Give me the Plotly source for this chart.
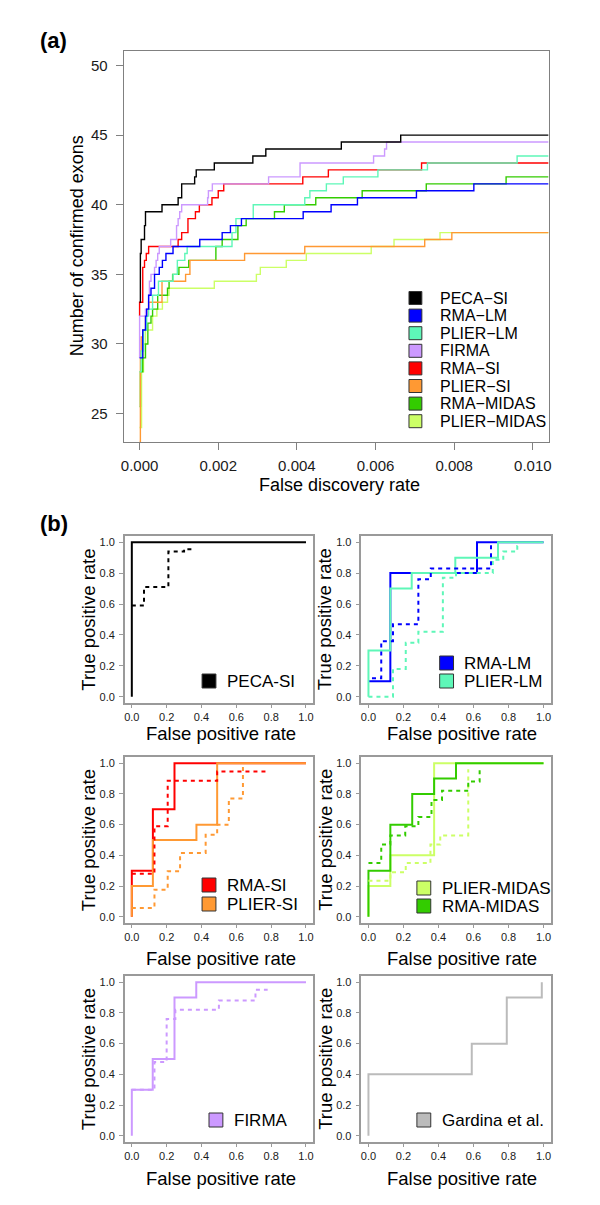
import plotly.graph_objects as go

# ---------------- Panel (a) data: step curves (FDR, confirmed exons) ----------------
FDR_END = 0.0104
names_a = ["PECA-SI", "RMA-LM", "PLIER-LM", "FIRMA", "RMA-SI", "PLIER-SI", "RMA-MIDAS", "PLIER-MIDAS"]
colors_a = ["#000000", "#0000FF", "#5EF7B8", "#CC99FF", "#FF0000", "#FF9933", "#33CC00", "#CCFF66"]

peca_si_fdr = [0, 0.00002, 0.00004, 0.000125, 0.00015, 0.00057, 0.00098, 0.00107, 0.0014, 0.00144,
               0.0019, 0.00288, 0.00321, 0.00513, 0.00664]
peca_si_n = [33, 36.5, 37.5, 38.5, 39.5, 40, 40.5, 41.5, 42, 42.5, 43, 43.5, 44, 44.5, 45]

rma_lm_fdr = [0, 0.00008, 0.00015, 0.00018, 0.00023, 0.00029, 0.00038, 0.0005, 0.00058, 0.00067,
              0.00085, 0.00153, 0.0021, 0.00231, 0.00259, 0.00416, 0.00487, 0.00554, 0.00704, 0.0085]
rma_lm_n = [29, 31, 32, 32.5, 33.5, 34, 35, 35.5, 36, 36.5, 37, 37.5, 38, 38.5, 39, 39.5, 40, 40.5, 41, 41.5]

plier_lm_fdr = [0, 0.00004, 0.0001, 0.00018, 0.00023, 0.00033, 0.00048, 0.00085, 0.00096, 0.00115,
                0.00121, 0.00235, 0.00245, 0.00289, 0.0042, 0.00433, 0.00475, 0.00518, 0.00606, 0.00732, 0.0096]
plier_lm_n = [28, 29.5, 31, 32, 32.5, 33.5, 34.5, 35, 36, 36.5, 37, 38, 39, 40, 40.5, 41, 41.5, 42, 42.5, 43, 43.5]

firma_fdr = [0, 0, 0.00015, 0.00023, 0.00025, 0.00029, 0.00038, 0.00042, 0.00046, 0.0005, 0.00079,
             0.00094, 0.00098, 0.00102, 0.00107, 0.00173, 0.00175, 0.00185, 0.00328, 0.00408, 0.00595,
             0.00623, 0.00628]
firma_n = [29, 32, 32.5, 33.5, 34.5, 35, 35.5, 36, 36.5, 37, 37.5, 38.5, 39, 39.5, 40, 40.5, 41, 41.5,
           42, 43, 43.5, 44, 44.5]

rma_si_fdr = [0, 0, 0.00008, 0.000125, 0.00017, 0.00023, 0.00098, 0.00107, 0.00123, 0.00142, 0.00152,
              0.00184, 0.002, 0.00214, 0.00415, 0.0048, 0.00717]
rma_si_n = [32, 33, 35.5, 36, 36.5, 37, 37.5, 38, 39, 39.5, 40, 40.5, 41, 41.5, 42, 42.5, 43]

plier_si_fdr = [0, 0.00002, 0.00004, 0.00008, 0.00015, 0.00018, 0.00023, 0.00057, 0.00117, 0.00128,
                0.00267, 0.0042, 0.00725, 0.00794]
plier_si_n = [23, 29.5, 30.5, 31, 32, 32.5, 33, 34.5, 35, 36, 36.5, 37, 37.5, 38]

rma_midas_fdr = [0, 0.00002, 0.00008, 0.00015, 0.00021, 0.00029, 0.00033, 0.00046, 0.00071, 0.00075,
                 0.00084, 0.001, 0.00125, 0.00194, 0.0021, 0.0025, 0.00271, 0.00343, 0.00368, 0.00448,
                 0.00566, 0.00729, 0.00932]
rma_midas_n = [25.5, 28, 29, 30, 31.5, 32, 32.5, 33.5, 34, 34.5, 35, 35.5, 36, 37, 37.5, 38.5, 39, 39.5,
               40, 40.5, 41, 41.5, 42]

plier_midas_fdr = [0, 0.00005, 0.0001, 0.00015, 0.00033, 0.00044, 0.00058, 0.00071, 0.00075, 0.0019,
                   0.00297, 0.00307, 0.00373, 0.00424, 0.00589, 0.00647, 0.00764]
plier_midas_n = [24, 28, 30, 31, 32, 32.5, 33, 33.5, 34, 34.5, 35, 35.5, 36, 36.5, 37, 37.5, 38]

series_a = {
    "PECA-SI": (peca_si_fdr, peca_si_n),
    "RMA-LM": (rma_lm_fdr, rma_lm_n),
    "PLIER-LM": (plier_lm_fdr, plier_lm_n),
    "FIRMA": (firma_fdr, firma_n),
    "RMA-SI": (rma_si_fdr, rma_si_n),
    "PLIER-SI": (plier_si_fdr, plier_si_n),
    "RMA-MIDAS": (rma_midas_fdr, rma_midas_n),
    "PLIER-MIDAS": (plier_midas_fdr, plier_midas_n),
}
draw_order_a = ["PLIER-MIDAS", "RMA-MIDAS", "PLIER-SI", "RMA-SI", "FIRMA", "PLIER-LM", "RMA-LM", "PECA-SI"]

x_ticks_a = [0.000, 0.002, 0.004, 0.006, 0.008, 0.010]
y_ticks_a = [25, 30, 35, 40, 45, 50]

# ---------------- Panel (b) data: ROC step curves (FPR, TPR knots) ----------------
roc_ticks = [0.0, 0.2, 0.4, 0.6, 0.8, 1.0]

peca_solid_fpr = [0, 0, 1.0];            peca_solid_tpr = [0, 1.0, 1.0]
peca_dot_fpr = [0, 0.07, 0.21, 0.30, 0.36]; peca_dot_tpr = [0.59, 0.71, 0.94, 0.955, 0.955]

rmalm_solid_fpr = [0, 0.125, 0.62, 1.0];  rmalm_solid_tpr = [0.1, 0.8, 1.0, 1.0]
plierlm_solid_fpr = [0, 0, 0.125, 0.247, 0.496, 0.74, 1.0]
plierlm_solid_tpr = [0, 0.3, 0.7, 0.8, 0.9, 1.0, 1.0]
rmalm_dot_fpr = [0.02, 0.073, 0.14, 0.285, 0.356, 0.70]
rmalm_dot_tpr = [0.12, 0.36, 0.47, 0.76, 0.83, 1.0]
plierlm_dot_fpr = [0, 0.14, 0.213, 0.285, 0.425, 0.50, 0.71, 0.77, 0.85, 0.87]
plierlm_dot_tpr = [0, 0.18, 0.35, 0.42, 0.77, 0.80, 0.886, 0.94, 0.976, 0.976]

rmasi_solid_fpr = [0, 0, 0.121, 0.245, 1.0];  rmasi_solid_tpr = [0, 0.3, 0.7, 1.0, 1.0]
pliersi_solid_fpr = [0, 0, 0.121, 0.371, 0.49, 1.0]; pliersi_solid_tpr = [0, 0.2, 0.5, 0.6, 1.0, 1.0]
rmasi_dot_fpr = [0, 0.13, 0.206, 0.49, 0.78];  rmasi_dot_tpr = [0.28, 0.59, 0.885, 0.946, 0.946]
pliersi_dot_fpr = [0, 0.13, 0.206, 0.277, 0.424, 0.49, 0.557, 0.638]
pliersi_dot_tpr = [0.058, 0.177, 0.297, 0.415, 0.534, 0.6, 0.77, 0.98]

pliermidas_solid_fpr = [0, 0, 0.125, 0.375, 1.0]; pliermidas_solid_tpr = [0, 0.2, 0.4, 1.0, 1.0]
rmamidas_solid_fpr = [0, 0, 0.125, 0.25, 0.375, 0.5, 1.0]
rmamidas_solid_tpr = [0, 0.3, 0.6, 0.8, 0.9, 1.0, 1.0]
rmamidas_dot_fpr = [0, 0.073, 0.125, 0.21, 0.285, 0.36, 0.42, 0.57, 0.635]
rmamidas_dot_tpr = [0.35, 0.47, 0.53, 0.59, 0.65, 0.76, 0.82, 0.88, 0.98]
pliermidas_dot_fpr = [0, 0.125, 0.213, 0.354, 0.41, 0.57]
pliermidas_dot_tpr = [0.235, 0.29, 0.35, 0.47, 0.53, 0.96]

firma_solid_fpr = [0, 0, 0.12, 0.245, 0.37, 1.0]; firma_solid_tpr = [0, 0.3, 0.5, 0.9, 1.0, 1.0]
firma_dot_fpr = [0, 0.13, 0.2, 0.25, 0.5, 0.71, 0.78]
firma_dot_tpr = [0.3, 0.48, 0.76, 0.82, 0.88, 0.95, 0.95]

gardina_fpr = [0, 0, 0.59, 0.79, 0.99]; gardina_tpr = [0, 0.4, 0.6, 0.9, 1.0]

GRAY = "#BBBBBB"
col = dict(zip(names_a, colors_a))

# panels: (axis index, list of (fpr, tpr, color, dotted), legend entries)
panels_b = [
    (2, [(peca_solid_fpr, peca_solid_tpr, col["PECA-SI"], False),
         (peca_dot_fpr, peca_dot_tpr, col["PECA-SI"], True)], ["PECA-SI"]),
    (3, [(rmalm_solid_fpr, rmalm_solid_tpr, col["RMA-LM"], False),
         (plierlm_solid_fpr, plierlm_solid_tpr, col["PLIER-LM"], False),
         (plierlm_dot_fpr, plierlm_dot_tpr, col["PLIER-LM"], True),
         (rmalm_dot_fpr, rmalm_dot_tpr, col["RMA-LM"], True)], ["RMA-LM", "PLIER-LM"]),
    (4, [(rmasi_solid_fpr, rmasi_solid_tpr, col["RMA-SI"], False),
         (pliersi_solid_fpr, pliersi_solid_tpr, col["PLIER-SI"], False),
         (rmasi_dot_fpr, rmasi_dot_tpr, col["RMA-SI"], True),
         (pliersi_dot_fpr, pliersi_dot_tpr, col["PLIER-SI"], True)], ["RMA-SI", "PLIER-SI"]),
    (5, [(pliermidas_solid_fpr, pliermidas_solid_tpr, col["PLIER-MIDAS"], False),
         (rmamidas_solid_fpr, rmamidas_solid_tpr, col["RMA-MIDAS"], False),
         (pliermidas_dot_fpr, pliermidas_dot_tpr, col["PLIER-MIDAS"], True),
         (rmamidas_dot_fpr, rmamidas_dot_tpr, col["RMA-MIDAS"], True)], ["PLIER-MIDAS", "RMA-MIDAS"]),
    (6, [(firma_solid_fpr, firma_solid_tpr, col["FIRMA"], False),
         (firma_dot_fpr, firma_dot_tpr, col["FIRMA"], True)], ["FIRMA"]),
    (7, [(gardina_fpr, gardina_tpr, GRAY, False)], ["Gardina et al."]),
]
legend_colors_b = dict(col, **{"Gardina et al.": GRAY})

# ---------------- layout geometry (pixels) ----------------
W, H = 600, 1205
FONT = "Liberation Sans, Arial, Helvetica, sans-serif"

def px(x):
    return x / W

def py(y):
    return 1 - y / H

fig = go.Figure()

# Panel (a) traces
for name in draw_order_a:
    fx, ny = series_a[name]
    fig.add_trace(go.Scatter(
        x=list(fx) + [FDR_END], y=list(ny) + [ny[-1]], mode="lines",
        line=dict(color=col[name], width=1.4, shape="hv"),
        name=name, showlegend=False, xaxis="x", yaxis="y", hoverinfo="skip"))

# Panel (b) traces
for idx, curves, _ in panels_b:
    for fx, ty, c, dotted in curves:
        fig.add_trace(go.Scatter(
            x=fx, y=ty, mode="lines",
            line=dict(color=c, width=2, shape="hv", dash="4px,4px" if dotted else "solid"),
            showlegend=False, xaxis="x%d" % idx, yaxis="y%d" % idx, hoverinfo="skip"))

def axis(domain, rng, tickvals, fmt, fsize, ticklen, anchor, lc, lw, standoff):
    return dict(domain=domain, range=rng, tickvals=tickvals, tickformat=fmt,
                showline=True, mirror=True, linecolor=lc, linewidth=lw,
                ticks="outside", ticklen=ticklen, tickcolor=lc, tickwidth=1,
                tickfont=dict(family=FONT, size=fsize, color="#1a1a1a"),
                showgrid=False, zeroline=False, anchor=anchor, fixedrange=True,
                ticklabelstandoff=standoff)

layout = dict(width=W, height=H, margin=dict(l=0, r=0, t=0, b=0),
              paper_bgcolor="white", plot_bgcolor="white", showlegend=False,
              font=dict(family=FONT))

layout["xaxis"] = axis([px(114), px(543)], [-0.0004, 0.0104], x_ticks_a, ".3f", 15, 7, "y", "#808080", 1.4, 3)
layout["yaxis"] = axis([py(434), py(43)], [22.96, 51.04], y_ticks_a, "d", 15, 7, "x", "#808080", 1.4, 5)

cols_px = [(115, 305), (354, 545)]
rows_px = [(528, 695), (749, 915), (968, 1134)]
for k, (idx, _, _) in enumerate(panels_b):
    c0, c1 = cols_px[k % 2]
    r0, r1 = rows_px[k // 2]
    layout["xaxis%d" % idx] = axis([px(c0), px(c1)], [-0.04, 1.04], roc_ticks, ".1f", 11, 3,
                                   "y%d" % idx, "#9a9a9a", 1.6, 0)
    layout["yaxis%d" % idx] = axis([py(r1), py(r0)], [-0.04, 1.04], roc_ticks, ".1f", 11, 4,
                                   "x%d" % idx, "#9a9a9a", 1.6, 2)

annotations = []
shapes = []

def text(x, y, s, size, xanchor="center", angle=0, bold=False):
    annotations.append(dict(x=px(x), y=py(y), xref="paper", yref="paper", text=("<b>%s</b>" % s) if bold else s,
                            showarrow=False, xanchor=xanchor, yanchor="middle", textangle=angle,
                            font=dict(family=FONT, size=size, color="#000000")))

def key(x0, yc, color, size=13):
    shapes.append(dict(type="rect", xref="paper", yref="paper",
                       x0=px(x0), x1=px(x0 + size), y0=py(yc + size / 2), y1=py(yc - size / 2),
                       fillcolor=color, line=dict(color="#333333", width=1)))

# Panel labels and titles
text(27, 32, "(a)", 22, xanchor="left", bold=True)
text(27, 515, "(b)", 22, xanchor="left", bold=True)
text(67, 238, "Number of confirmed exons", 18, angle=-90)
text(332, 477, "False discovery rate", 18)

# Panel (a) legend
leg_y0, leg_dy = 290, 17.6
for i, name in enumerate(names_a):
    yc = leg_y0 + i * leg_dy
    key(402, yc, col[name])
    text(431, yc, name.replace("-", "\u2212"), 16, xanchor="left")

# Panel (b) titles and legends
xt_y = [725, 950, 1170]
xt_x = [212, 456]
yt_x = [78, 317]
legend_pos_b = [
    (193, [673]), (433, [655, 673]),
    (193, [877, 896]), (410, [880, 898]),
    (200, [1112]), (410, [1112]),
]
for k, (idx, _, leg) in enumerate(panels_b):
    r0, r1 = rows_px[k // 2]
    text(xt_x[k % 2], xt_y[k // 2], "False positive rate", 18.5)
    text(yt_x[k % 2], (r0 + r1) / 2, "True positive rate", 18.5, angle=-90)
    lx, lys = legend_pos_b[k]
    for name, yc in zip(leg, lys):
        key(lx, yc, legend_colors_b[name], 14)
        text(lx + 23, yc, name, 17, xanchor="left")

layout["annotations"] = annotations
layout["shapes"] = shapes
fig.update_layout(**layout)
fig.write_html("out.html")
